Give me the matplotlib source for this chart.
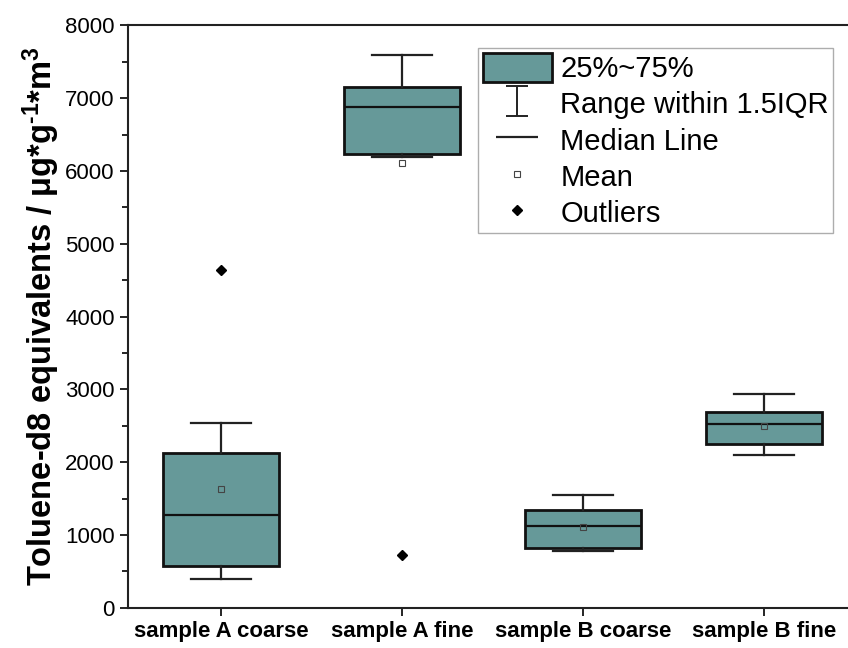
import matplotlib.pyplot as plt
from matplotlib.lines import Line2D
from matplotlib.patches import Patch
from matplotlib.path import Path
from matplotlib.ticker import MultipleLocator

plt.rcParams['font.family'] = ['Liberation Sans', 'DejaVu Sans']
plt.rcParams['mathtext.fontset'] = 'custom'
plt.rcParams['mathtext.rm'] = 'Liberation Sans:bold'
plt.rcParams['mathtext.it'] = 'Liberation Sans:bold'
plt.rcParams['mathtext.bf'] = 'Liberation Sans:bold'

# Box statistics
categories = ['sample A coarse', 'sample A fine', 'sample B coarse', 'sample B fine']
whisker_low = [390, 6192, 778, 2097]
q1 = [573, 6239, 824, 2248]
median = [1273, 6884, 1126, 2526]
q3 = [2128, 7153, 1341, 2691]
whisker_high = [2532, 7589, 1543, 2934]
means = [1626, 6110, 1112, 2495]
outliers = [[4637], [724], [], []]

box_color = '#669999'

stats = []
for i, name in enumerate(categories):
    stats.append({
        'label': name,
        'whislo': whisker_low[i], 'q1': q1[i], 'med': median[i],
        'q3': q3[i], 'whishi': whisker_high[i],
        'mean': means[i], 'fliers': outliers[i],
    })

fig = plt.figure(figsize=(8.48, 6.48), dpi=100)
ax = fig.add_axes([0.151, 0.062, 0.857, 0.899])

positions = list(range(1, len(categories) + 1))
ax.bxp(stats, positions=positions, widths=0.64, capwidths=0.33,
       patch_artist=True, showmeans=True,
       boxprops=dict(facecolor=box_color, edgecolor='#111111', linewidth=2.0),
       whiskerprops=dict(color='#222222', linewidth=1.6),
       capprops=dict(color='#222222', linewidth=1.6),
       medianprops=dict(color='#111111', linewidth=1.6),
       meanprops=dict(marker='s', markerfacecolor='none', markeredgecolor='#444444',
                      markersize=5, markeredgewidth=0.8),
       flierprops=dict(marker='D', markerfacecolor='black', markeredgecolor='black',
                       markersize=5))

ax.set_xlim(0.486, 4.5)
ax.set_ylim(0, 8000)
ax.yaxis.set_major_locator(MultipleLocator(1000))
ax.yaxis.set_minor_locator(MultipleLocator(500))
ax.tick_params(axis='y', which='major', direction='out', length=6, width=1.2,
               labelsize=16)
ax.tick_params(axis='y', which='minor', direction='out', length=4, width=1.2)
ax.tick_params(axis='x', direction='out', length=6, width=1.2, labelsize=16)
for lab in ax.get_xticklabels():
    lab.set_fontweight('bold')
for sp in ax.spines.values():
    sp.set_linewidth(1.5)
    sp.set_color('#222222')

ax.set_ylabel(r'Toluene-d8 equivalents / μg*g$^{\text{-1}}$*m$^{\text{3}}$',
              fontsize=23.5, fontweight='bold', labelpad=2)

# legend handles
range_path = Path([(-0.35, -0.5), (0.35, -0.5), (0, -0.5), (0, 0.5),
                   (-0.35, 0.5), (0.35, 0.5)],
                  [Path.MOVETO, Path.LINETO, Path.MOVETO, Path.LINETO,
                   Path.MOVETO, Path.LINETO])
median_path = Path([(-0.5, 0), (0.5, 0)], [Path.MOVETO, Path.LINETO])
handles = [
    Patch(facecolor=box_color, edgecolor='#111111', linewidth=2.0),
    Line2D([], [], linestyle='none', marker=range_path, markersize=22,
           color='#222222', markeredgewidth=1.4),
    Line2D([], [], linestyle='none', marker=median_path, markersize=30,
           color='#222222', markeredgewidth=1.6),
    Line2D([], [], linestyle='none', marker='s', markerfacecolor='none',
           markeredgecolor='#444444', markersize=5, markeredgewidth=0.8),
    Line2D([], [], linestyle='none', marker='D', color='black', markersize=5),
]
labels = ['25%~75%', 'Range within 1.5IQR', 'Median Line', 'Mean', 'Outliers']
leg = ax.legend(handles, labels, loc='upper left', bbox_to_anchor=(0.482, 0.9605),
                fontsize=21, frameon=True, fancybox=False, edgecolor='#999999',
                handlelength=2.36, handleheight=1.16, handletextpad=0.3,
                labelspacing=0.2, borderpad=0.15, borderaxespad=0)
leg.get_frame().set_linewidth(1.0)

plt.savefig('out.png', dpi=100)
